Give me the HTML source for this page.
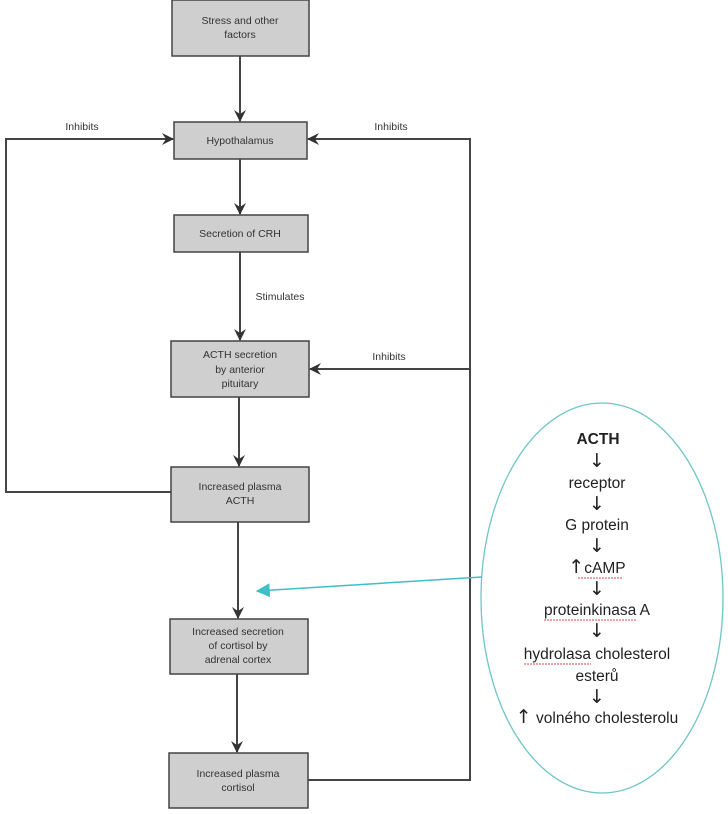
<!DOCTYPE html>
<html><head><meta charset="utf-8"><style>
html,body{margin:0;padding:0;background:#fff;width:728px;height:814px;overflow:hidden}
svg{display:block}
.b{fill:#cfcfcf;stroke:#444;stroke-width:1.5}
.t{font-family:"Liberation Sans",sans-serif;font-size:10.5px;fill:#333;text-anchor:middle}
.l{stroke:#444;stroke-width:2;fill:none}
.e{font-family:"Liberation Sans",sans-serif;font-size:15.5px;fill:#222;text-anchor:middle}
.ar{font-family:"DejaVu Sans",sans-serif;font-size:19px;fill:#222;text-anchor:middle}
.u{stroke:#d44;stroke-width:1;stroke-dasharray:2 1;fill:none}
</style></head><body>
<svg width="728" height="814" viewBox="0 0 728 814" xmlns="http://www.w3.org/2000/svg">
<defs>
<marker id="a" viewBox="0 0 12 12" refX="11" refY="6" markerWidth="12" markerHeight="12" markerUnits="userSpaceOnUse" orient="auto">
<path d="M0,0 L12,6 L0,12 L4,6 Z" fill="#333"/></marker>
<marker id="c" viewBox="0 0 12 12" refX="11" refY="6" markerWidth="14" markerHeight="14" markerUnits="userSpaceOnUse" orient="auto">
<path d="M0,0 L12,6 L0,12 Z" fill="#3cc0c8"/></marker>
</defs>
<rect class="b" x="172" y="0" width="137" height="56"/>
<text class="t" x="240" y="24">Stress and other</text><text class="t" x="240" y="38">factors</text>
<rect class="b" x="174" y="122" width="133" height="37"/>
<text class="t" x="240" y="144">Hypothalamus</text>
<rect class="b" x="174" y="215" width="134" height="37"/>
<text class="t" x="240" y="237">Secretion of CRH</text>
<rect class="b" x="171" y="341" width="138" height="56"/>
<text class="t" x="240" y="358">ACTH secretion</text><text class="t" x="240" y="373">by anterior</text><text class="t" x="240" y="387">pituitary</text>
<rect class="b" x="171" y="467" width="138" height="55"/>
<text class="t" x="240" y="490">Increased plasma</text><text class="t" x="240" y="504">ACTH</text>
<rect class="b" x="170" y="619" width="138" height="55"/>
<text class="t" x="238" y="635">Increased secretion</text><text class="t" x="238" y="649">of cortisol by</text><text class="t" x="238" y="663">adrenal cortex</text>
<rect class="b" x="169" y="753" width="139" height="55"/>
<text class="t" x="238" y="777">Increased plasma</text><text class="t" x="238" y="791">cortisol</text>
<line class="l" x1="240" y1="56" x2="240" y2="121" marker-end="url(#a)"/>
<line class="l" x1="240" y1="159" x2="240" y2="214" marker-end="url(#a)"/>
<line class="l" x1="240" y1="252" x2="240" y2="340" marker-end="url(#a)"/>
<line class="l" x1="239" y1="397" x2="239" y2="466" marker-end="url(#a)"/>
<line class="l" x1="238" y1="522" x2="238" y2="618" marker-end="url(#a)"/>
<line class="l" x1="237" y1="674" x2="237" y2="752" marker-end="url(#a)"/>
<polyline class="l" points="171,492 6,492 6,139 173,139" marker-end="url(#a)"/>
<polyline class="l" points="308,780 470,780 470,139 308,139" marker-end="url(#a)"/>
<line class="l" x1="470" y1="369" x2="310" y2="369" marker-end="url(#a)"/>
<text class="t" x="82" y="130">Inhibits</text>
<text class="t" x="391" y="130">Inhibits</text>
<text class="t" x="389" y="360">Inhibits</text>
<text class="t" x="280" y="300">Stimulates</text>
<ellipse cx="602" cy="598" rx="121" ry="195" fill="none" stroke="#6fc5c8" stroke-width="1.3"/>
<line x1="482" y1="577" x2="257" y2="591" stroke="#3cc0c8" stroke-width="1.5" marker-end="url(#c)"/>
<text class="e" x="598" y="444" font-weight="bold">ACTH</text>
<text class="ar" x="597" y="467">↓</text>
<text class="e" x="597" y="488">receptor</text>
<text class="ar" x="597" y="510">↓</text>
<text class="e" x="597" y="530">G protein</text>
<text class="ar" x="597" y="552">↓</text>
<text class="e" x="597" y="573"><tspan class="ar">↑</tspan>cAMP</text>
<path class="u" d="M578,578 L622,578"/>
<text class="ar" x="597" y="595">↓</text>
<text class="e" x="597" y="615">proteinkinasa A</text>
<path class="u" d="M544,620 L636,620"/>
<text class="ar" x="597" y="637">↓</text>
<text class="e" x="597" y="659">hydrolasa cholesterol</text>
<path class="u" d="M524,664 L591,664"/>
<text class="e" x="597" y="681">esterů</text>
<text class="ar" x="597" y="703">↓</text>
<text class="e" x="597" y="723"><tspan class="ar">↑</tspan> volného cholesterolu</text>
</svg>
</body></html>
